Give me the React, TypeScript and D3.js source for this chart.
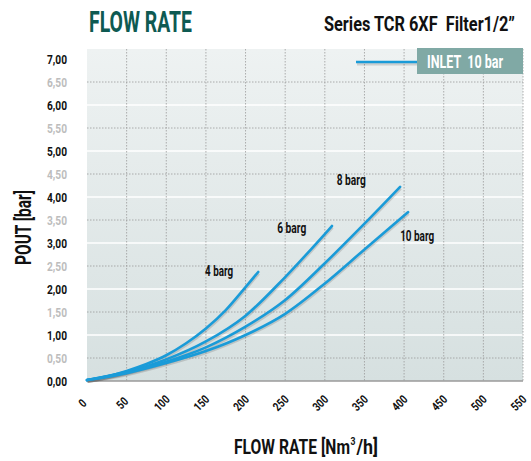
import React, { useLayoutEffect, useRef, useState } from "react";
import * as d3 from "d3";

const flowTicks = [0, 50, 100, 150, 200, 250, 300, 350, 400, 450, 500, 550];
const pressureTicks = [0, 0.5, 1, 1.5, 2, 2.5, 3, 3.5, 4, 4.5, 5, 5.5, 6, 6.5, 7];

const flow4 = [0, 25, 50, 75, 100, 125, 150, 175, 200, 216];
const pout4 = [0.02, 0.1, 0.22, 0.37, 0.56, 0.82, 1.14, 1.54, 2.04, 2.37];

const flow6 = [0, 50, 100, 150, 200, 250, 309];
const pout6 = [0.02, 0.2, 0.47, 0.86, 1.42, 2.26, 3.37];

const flow8 = [0, 50, 100, 150, 200, 250, 300, 350, 395];
const pout8 = [0.02, 0.19, 0.42, 0.73, 1.18, 1.76, 2.56, 3.42, 4.22];

const flow10 = [0, 50, 100, 150, 200, 250, 300, 350, 405];
const pout10 = [0.02, 0.17, 0.39, 0.65, 1.0, 1.46, 2.12, 2.86, 3.67];

const seriesNames = ["4 barg", "6 barg", "8 barg", "10 barg"];
const seriesFlows = [flow4, flow6, flow8, flow10];
const seriesPouts = [pout4, pout6, pout8, pout10];
const labelFlows = [149, 240, 315, 395];
const labelPouts = [2.28, 3.22, 4.26, 3.05];
const labelWidths = [28, 29, 29, 34];

const FONT = "Roboto, 'DejaVu Sans', sans-serif";
const BLUE = "#1a9bd8";
const NB = "\u00A0";

type TProps = {
  x: number;
  y: number;
  size: number;
  len?: number;
  anchor?: string;
  fill?: string;
  rotate?: number;
  children: React.ReactNode;
};

function T({ x, y, size, len, anchor = "start", fill = "#111", rotate = 0, children }: TProps) {
  const ref = useRef<SVGTextElement>(null);
  const [sx, setSx] = useState(0.78);
  useLayoutEffect(() => {
    if (ref.current && len) {
      const w = ref.current.getComputedTextLength();
      if (w > 0) setSx(Math.min(0.85, len / w));
    }
  }, [len, size, children]);
  return (
    <text
      ref={ref}
      transform={`translate(${x},${y}) rotate(${rotate}) scale(${sx},1)`}
      textAnchor={anchor}
      fontFamily={FONT}
      fontWeight="bold"
      fontSize={size}
      fill={fill}
    >
      {children}
    </text>
  );
}

export default function App() {
  const x = d3.scaleLinear().domain([0, 550]).range([87, 523]);
  const y = d3.scaleLinear().domain([0, 7]).range([381, 59]);
  const line = d3
    .line<[number, number]>()
    .x((d) => x(d[0]))
    .y((d) => y(d[1]))
    .curve(d3.curveMonotoneX);

  return (
    <svg
      width={531}
      height={461}
      style={{ position: "absolute", left: 0, top: 0, background: "#fff" }}
    >
      <defs>
        <linearGradient id="bg" x1="0" y1="0" x2="0" y2="1">
          <stop offset="0" stopColor="#eef2f2" />
          <stop offset="1" stopColor="#d6e0e0" />
        </linearGradient>
      </defs>
      <T x={89} y={32} size={30} len={103} fill="#0e5a52">
        FLOW RATE
      </T>
      <T x={324} y={30.5} size={21} len={191}>
        {`Series TCR 6XF${NB}${NB}Filter1/2”`}
      </T>

      <rect x={87} y={49} width={436} height={332} fill="url(#bg)" />

      {pressureTicks.map((p) =>
        Number.isInteger(p) ? (
          p > 0 && p < 7 ? (
            <line key={"h" + p} x1={87} x2={523} y1={y(p)} y2={y(p)} stroke="#fff" strokeWidth={1.5} />
          ) : null
        ) : (
          <line key={"h" + p} x1={87} x2={523} y1={y(p)} y2={y(p)} stroke="#9a9a9a" strokeWidth={0.8} strokeDasharray="1.5,1.5" />
        )
      )}
      {flowTicks.filter((f) => f > 0).map((f) => (
        <line key={"v" + f} x1={x(f)} x2={x(f)} y1={49} y2={381} stroke="#9a9a9a" strokeWidth={0.8} strokeDasharray="1.5,1.5" />
      ))}
      <line x1={87} x2={523} y1={381} y2={381} stroke="#9a9a9a" strokeWidth={1.5} />

      {pressureTicks.map((p) => (
        <T
          key={"yl" + p}
          x={67}
          y={y(p) + 4.8}
          anchor="end"
          size={13}
          len={20}
          fill={Number.isInteger(p) ? "#111" : "#bdbdbd"}
        >
          {p.toFixed(2).replace(".", ",")}
        </T>
      ))}
      {flowTicks.map((f) => {
        const s = String(f);
        return (
          <T key={"xl" + f} x={x(f) - 1.5} y={406} rotate={-45} anchor="middle" size={12} len={s.length * 5.5}>
            {s}
          </T>
        );
      })}

      {seriesFlows.map((fl, i) => {
        const pts = fl.map((f, j) => [f, seriesPouts[i][j]] as [number, number]);
        const d = line(pts) || "";
        return (
          <g key={"s" + i}>
            <path d={d} fill="none" stroke="#555" strokeOpacity={0.22} strokeWidth={3} transform="translate(0.5,1.5)" />
            <path d={d} fill="none" stroke={BLUE} strokeWidth={2.6} strokeLinecap="round" />
          </g>
        );
      })}
      {seriesNames.map((n, i) => (
        <T key={"lab" + i} x={x(labelFlows[i])} y={y(labelPouts[i])} size={14} len={labelWidths[i]}>
          {n}
        </T>
      ))}

      <line x1={357} x2={417} y1={64} y2={64} stroke="#555" strokeOpacity={0.22} strokeWidth={3} />
      <line x1={356} x2={417} y1={62} y2={62} stroke={BLUE} strokeWidth={2.6} />
      <rect x={417} y={48} width={106} height={26} fill="#80a9a5" />
      <T x={427} y={68} size={19} len={76} fill="#fff">
        {`INLET${NB}${NB}10 bar`}
      </T>

      <T x={31} y={227.5} rotate={-90} anchor="middle" size={22} len={75}>
        POUT [bar]
      </T>
      <T x={234} y={454} size={21} len={116}>
        FLOW RATE [Nm
      </T>
      <T x={350.5} y={445} size={11} len={5}>
        3
      </T>
      <T x={356.5} y={454} size={21} len={31}>
        /h]
      </T>
    </svg>
  );
}
